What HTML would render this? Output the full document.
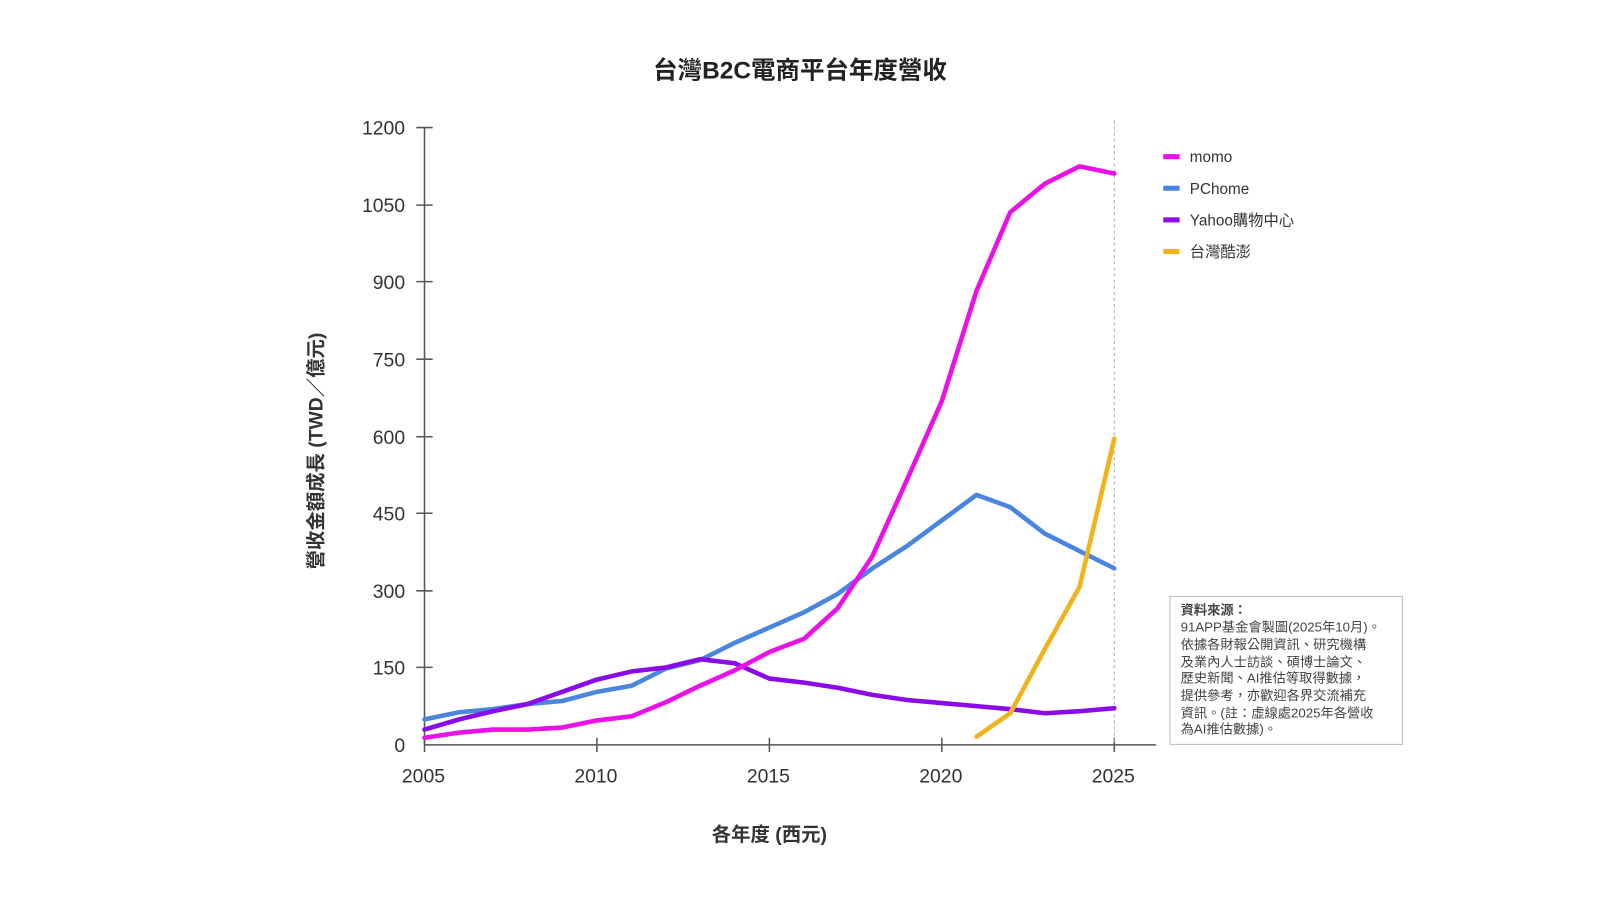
<!DOCTYPE html>
<html><head><meta charset="utf-8"><style>
html,body{margin:0;padding:0;background:#fff;}
svg{display:block;font-family:"Liberation Sans","Noto Sans CJK TC",sans-serif;}
</style></head><body>
<svg width="1600" height="900" viewBox="0 0 1568 882" xmlns="http://www.w3.org/2000/svg">
<rect width="1568" height="882" fill="#fff"/>
<text x="784" y="77" font-size="24" text-anchor="middle" fill="#222" font-weight="bold">台灣B2C電商平台年度營收</text>
<g stroke="#555" stroke-width="1.5" fill="none">
<line x1="416" y1="125" x2="416" y2="730"/>
<line x1="416" y1="730" x2="1133" y2="730"/>
<line x1="408" y1="125" x2="424" y2="125"/><line x1="408" y1="201" x2="424" y2="201"/><line x1="408" y1="276" x2="424" y2="276"/><line x1="408" y1="352" x2="424" y2="352"/><line x1="408" y1="428" x2="424" y2="428"/><line x1="408" y1="503" x2="424" y2="503"/><line x1="408" y1="579" x2="424" y2="579"/><line x1="408" y1="654" x2="424" y2="654"/>
<line x1="416" y1="723" x2="416" y2="737"/><line x1="585" y1="723" x2="585" y2="737"/><line x1="754" y1="723" x2="754" y2="737"/><line x1="923" y1="723" x2="923" y2="737"/><line x1="1092" y1="723" x2="1092" y2="737"/>
</g>
<line x1="1092" y1="118" x2="1092" y2="730" stroke="#aaa" stroke-width="1" stroke-dasharray="3,3"/>
<g font-size="19" fill="#333" text-anchor="end">
<text x="397" y="132">1200</text><text x="397" y="208">1050</text><text x="397" y="283">900</text><text x="397" y="359">750</text><text x="397" y="435">600</text><text x="397" y="510">450</text><text x="397" y="586">300</text><text x="397" y="661">150</text><text x="397" y="737">0</text>
</g>
<g font-size="19" fill="#333" text-anchor="middle">
<text x="415" y="767">2005</text><text x="584" y="767">2010</text><text x="753" y="767">2015</text><text x="922" y="767">2020</text><text x="1091" y="767">2025</text>
</g>
<text x="754" y="824" font-size="19" text-anchor="middle" fill="#333" font-weight="bold">各年度 (西元)</text>
<text transform="translate(316,442) rotate(-90)" font-size="19" text-anchor="middle" fill="#333" font-weight="bold">營收金額成長 (TWD／億元)</text>
<g fill="none" stroke-width="4.5" stroke-linejoin="round" stroke-linecap="round">
<polyline stroke="#4a86e0" points="416,705 450,698 483,695 517,690 551,687 585,678 619,672 653,655 686,647 720,630 754,615 788,600 821,582 855,557 889,535 923,510 957,485 990,497 1024,523 1058,540 1092,557"/>
<polyline stroke="#8b0be8" points="416,715 450,705 483,697 517,690 551,678 585,666 619,658 653,654 686,646 720,650 754,665 788,669 821,674 855,681 889,686 923,689 957,692 990,695 1024,699 1058,697 1092,694"/>
<polyline stroke="#ec10e8" points="416,723 450,718 483,715 517,715 551,713 585,706 619,702 653,688 686,672 720,657 754,639 788,626 821,596 855,545 889,470 923,393 957,285 990,208 1024,180 1058,163 1092,170"/>
<polyline stroke="#f1b31c" points="957,722 990,699 1024,636 1058,575 1092,430"/>
</g>
<g font-size="15" fill="#333">
<rect x="1140" y="151" width="16" height="5" fill="#ec10e8"/><text x="1166" y="159">momo</text>
<rect x="1140" y="182" width="16" height="5" fill="#4a86e0"/><text x="1166" y="190">PChome</text>
<rect x="1140" y="213" width="16" height="5" fill="#8b0be8"/><text x="1166" y="221">Yahoo購物中心</text>
<rect x="1140" y="244" width="16" height="5" fill="#f1b31c"/><text x="1166" y="252">台灣酷澎</text>
</g>
<rect x="1146.5" y="584.5" width="228" height="145" fill="#fff" stroke="#bbb" stroke-width="1"/>
<g font-size="13" fill="#444">
<text x="1157" y="602" font-weight="bold">資料來源：</text>
<text x="1157" y="619">91APP基金會製圖(2025年10月)。</text>
<text x="1157" y="636">依據各財報公開資訊、研究機構</text>
<text x="1157" y="653">及業內人士訪談、碩博士論文、</text>
<text x="1157" y="669">歷史新聞、AI推估等取得數據，</text>
<text x="1157" y="686">提供參考，亦歡迎各界交流補充</text>
<text x="1157" y="703">資訊。(註：虛線處2025年各營收</text>
<text x="1157" y="719">為AI推估數據)。</text>
</g>
</svg>
</body></html>
